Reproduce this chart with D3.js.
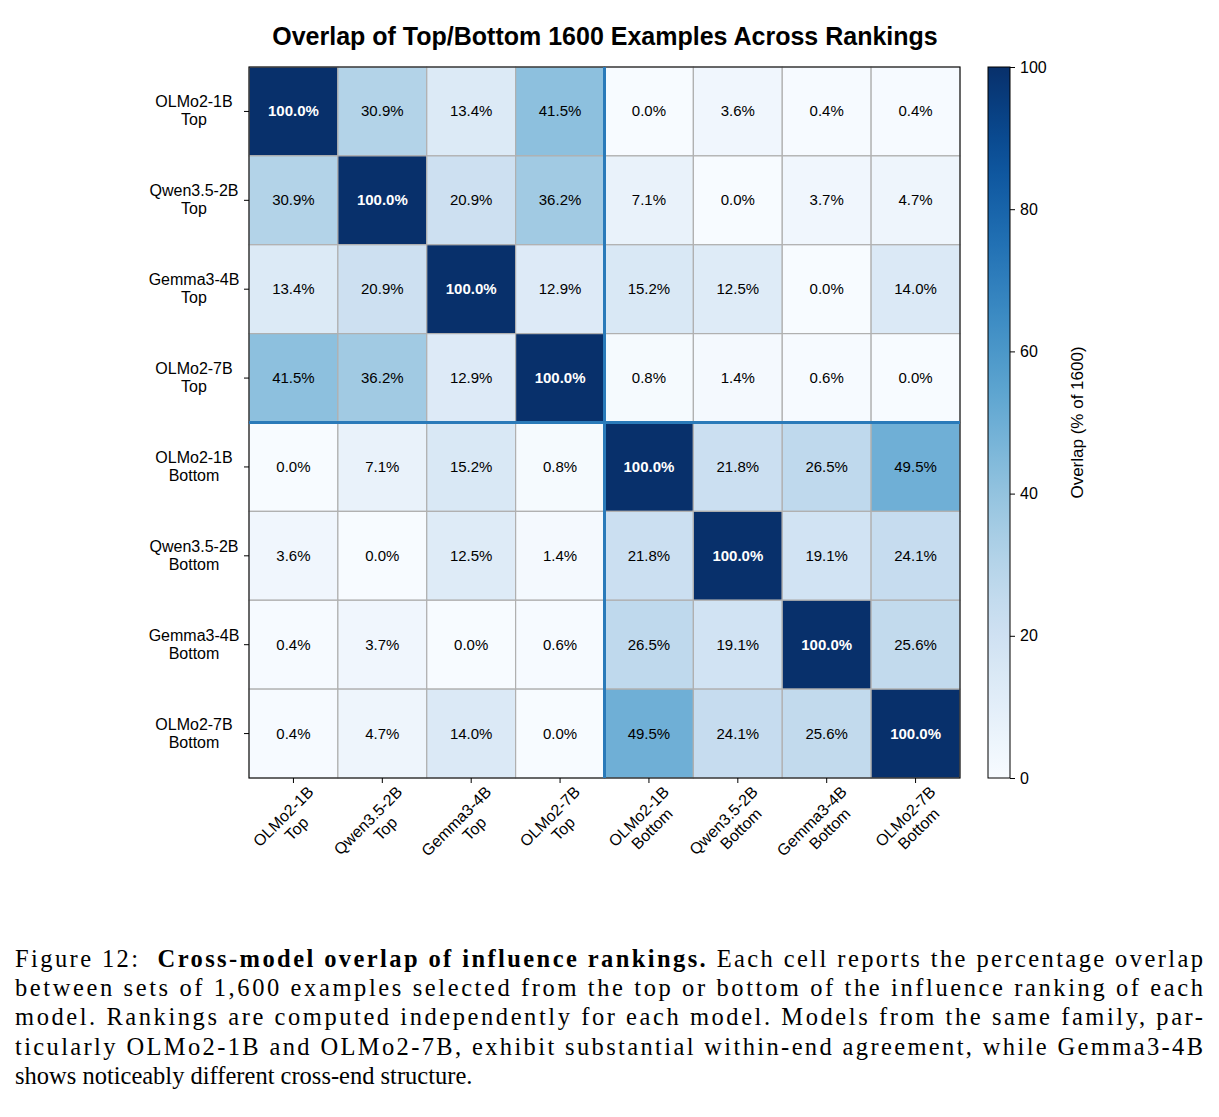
<!DOCTYPE html>
<html><head><meta charset="utf-8">
<script src="https://cdn.jsdelivr.net/npm/d3@7"></script>
<style>body{margin:0;background:#fff}</style>
</head><body>
<svg id="chart" width="1219" height="1117"></svg>
<script>
var models = ["OLMo2-1B", "Qwen3.5-2B", "Gemma3-4B", "OLMo2-7B"];
var ends = ["Top", "Bottom"];
var overlap = [
  [100.0, 30.9, 13.4, 41.5, 0.0, 3.6, 0.4, 0.4],
  [30.9, 100.0, 20.9, 36.2, 7.1, 0.0, 3.7, 4.7],
  [13.4, 20.9, 100.0, 12.9, 15.2, 12.5, 0.0, 14.0],
  [41.5, 36.2, 12.9, 100.0, 0.8, 1.4, 0.6, 0.0],
  [0.0, 7.1, 15.2, 0.8, 100.0, 21.8, 26.5, 49.5],
  [3.6, 0.0, 12.5, 1.4, 21.8, 100.0, 19.1, 24.1],
  [0.4, 3.7, 0.0, 0.6, 26.5, 19.1, 100.0, 25.6],
  [0.4, 4.7, 14.0, 0.0, 49.5, 24.1, 25.6, 100.0]
];
var cbTicks = [0, 20, 40, 60, 80, 100];
var labels = [];
ends.forEach(function(e){ models.forEach(function(m){ labels.push([m, e]); }); });

var svg = d3.select("#chart"),
    left = 249, topY = 67, size = 711,
    font = "Liberation Sans, Arial, sans-serif";

var x = d3.scaleBand().domain(d3.range(8)).range([left, left + size]);
var y = d3.scaleBand().domain(d3.range(8)).range([topY, topY + size]);
var color = d3.scaleSequential(d3.interpolateBlues).domain([0, 100]);

svg.append("text").attr("x", 605).attr("y", 45).attr("text-anchor", "middle")
  .attr("font-family", font).attr("font-weight", "bold").attr("font-size", 25)
  .text("Overlap of Top/Bottom 1600 Examples Across Rankings");

var cells = [];
overlap.forEach(function(row, i){ row.forEach(function(v, j){ cells.push({i: i, j: j, v: v}); }); });

svg.selectAll("rect.cell").data(cells).enter().append("rect")
  .attr("x", function(d){ return x(d.j); }).attr("y", function(d){ return y(d.i); })
  .attr("width", x.bandwidth()).attr("height", y.bandwidth())
  .attr("fill", function(d){ return color(d.v); })
  .attr("stroke", "#b0b0b0").attr("stroke-width", 1.2);

svg.selectAll("text.val").data(cells).enter().append("text")
  .attr("x", function(d){ return x(d.j) + x.bandwidth() / 2; })
  .attr("y", function(d){ return y(d.i) + y.bandwidth() / 2 + 5; })
  .attr("text-anchor", "middle").attr("font-family", font).attr("font-size", 15)
  .attr("font-weight", function(d){ return d.v > 60 ? "bold" : "normal"; })
  .attr("fill", function(d){ return d.v > 60 ? "#fff" : "#000"; })
  .text(function(d){ return d.v.toFixed(1) + "%"; });

svg.append("rect").attr("x", left).attr("y", topY).attr("width", size).attr("height", size)
  .attr("fill", "none").attr("stroke", "#000").attr("stroke-width", 1);

svg.append("line").attr("x1", x(4)).attr("x2", x(4)).attr("y1", topY).attr("y2", topY + size)
  .attr("stroke", "#2a7ab9").attr("stroke-width", 3);
svg.append("line").attr("y1", y(4)).attr("y2", y(4)).attr("x1", left).attr("x2", left + size)
  .attr("stroke", "#2a7ab9").attr("stroke-width", 3);

// y labels
labels.forEach(function(l, i){
  var cy = y(i) + y.bandwidth() / 2;
  svg.append("line").attr("x1", left - 5).attr("x2", left).attr("y1", cy).attr("y2", cy).attr("stroke", "#000");
  var t = svg.append("text").attr("text-anchor", "middle").attr("font-family", font).attr("font-size", 16)
    .attr("x", 194).attr("y", cy - 4);
  t.append("tspan").attr("x", 194).text(l[0]);
  t.append("tspan").attr("x", 194).attr("dy", 18).text(l[1]);
});

// x labels
labels.forEach(function(l, j){
  var cx = x(j) + x.bandwidth() / 2;
  svg.append("line").attr("x1", cx).attr("x2", cx).attr("y1", topY + size).attr("y2", topY + size + 5).attr("stroke", "#000");
  var g = svg.append("g").attr("transform", "translate(" + (cx + 14) + "," + (topY + size + 8) + ") rotate(-45)");
  g.append("text").attr("text-anchor", "end").attr("font-family", font).attr("font-size", 16)
    .attr("x", 0).attr("y", 10).text(l[0]);
  g.append("text").attr("text-anchor", "middle").attr("font-family", font).attr("font-size", 16)
    .attr("x", -38).attr("y", 28).text(l[1]);
});

// colorbar
var cbX = 988, cbW = 22;
var defs = svg.append("defs");
var grad = defs.append("linearGradient").attr("id", "cb").attr("x1", 0).attr("x2", 0).attr("y1", 1).attr("y2", 0);
d3.range(0, 1.01, 0.05).forEach(function(t){
  grad.append("stop").attr("offset", t).attr("stop-color", color(t * 100));
});
var cbY = d3.scaleLinear().domain([0, 100]).range([topY + size, topY]);
svg.append("rect").attr("x", cbX).attr("y", topY).attr("width", cbW).attr("height", size)
  .attr("fill", "url(#cb)").attr("stroke", "#000").attr("stroke-width", 1);
var axis = svg.append("g").attr("transform", "translate(" + (cbX + cbW) + ",0)")
  .call(d3.axisRight(cbY).tickValues(cbTicks).tickSize(5).tickPadding(5));
axis.select(".domain").remove();
axis.selectAll("text").attr("font-family", font).attr("font-size", 16);
svg.append("text").attr("transform", "translate(1083," + (topY + size / 2) + ") rotate(-90)")
  .attr("text-anchor", "middle").attr("font-family", font).attr("font-size", 17).text("Overlap (% of 1600)");

// caption
var serif = "Liberation Serif, Times New Roman, serif";
var capLines = [
  [["Figure 12:  ", false], ["Cross-model overlap of influence rankings.", true], [" Each cell reports the percentage overlap", false]],
  [["between sets of 1,600 examples selected from the top or bottom of the influence ranking of each", false]],
  [["model. Rankings are computed independently for each model. Models from the same family, par-", false]],
  [["ticularly OLMo2-1B and OLMo2-7B, exhibit substantial within-end agreement, while Gemma3-4B", false]],
  [["shows noticeably different cross-end structure.", false]]
];
capLines.forEach(function(parts, k){
  var t = svg.append("text").attr("x", 15).attr("y", 967 + k * 29.2)
    .attr("font-family", serif).attr("font-size", 24.5).attr("xml:space", "preserve");
  if (k < 4) t.attr("textLength", 1188).attr("lengthAdjust", "spacing");
  parts.forEach(function(p){
    t.append("tspan").attr("font-weight", p[1] ? "bold" : "normal").text(p[0]);
  });
});
</script>
</body></html>
